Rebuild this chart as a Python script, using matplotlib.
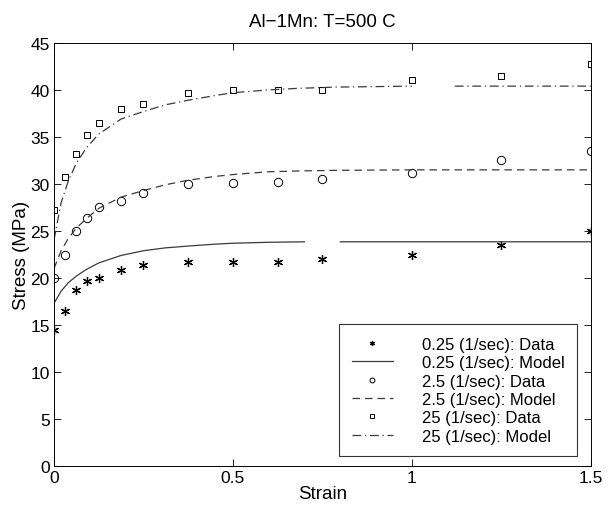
import numpy as np
import matplotlib
matplotlib.use('Agg')
import matplotlib.pyplot as plt

plt.rcParams['font.family'] = ['Liberation Sans', 'DejaVu Sans']

# ── data ───────────────────────────────────────────────────────
strain = [0, 0.03125, 0.0625, 0.09375, 0.125, 0.1875, 0.25,
          0.375, 0.5, 0.625, 0.75, 1.0, 1.25, 1.5]
data_025 = [14.5, 16.5, 18.7, 19.7, 20.0, 20.9, 21.4,
            21.7, 21.7, 21.7, 22.0, 22.5, 23.5, 25.0]
data_25 = [20.0, 22.5, 25.0, 26.4, 27.5, 28.2, 29.0,
           30.0, 30.1, 30.2, 30.5, 31.2, 32.5, 33.5]
data_250 = [27.2, 30.7, 33.2, 35.2, 36.5, 38.0, 38.5,
            39.7, 40.0, 40.0, 40.0, 41.0, 41.5, 42.7]

# model curves (nan = gap in the drawn line)
model_x = [0, 0.02, 0.04, 0.0625, 0.09, 0.125, 0.1875, 0.25, 0.31,
           0.375, 0.45, 0.5, 0.6, 0.7, 0.71, 0.79, 0.8, 1.0, 1.02,
           1.115, 1.12, 1.25, 1.5]
model_025 = [17.3, 18.6, 19.5, 20.2, 20.9, 21.6, 22.4, 22.9, 23.2,
             23.4, 23.6, 23.7, 23.8, 23.85, np.nan, np.nan, 23.85, 23.85, 23.85,
             23.85, 23.85, 23.85, 23.85]
model_25 = [21.0, 22.9, 24.2, 25.3, 26.3, 27.4, 28.6, 29.3, 29.9,
            30.4, 30.8, 31.0, 31.3, 31.4, 31.4, 31.45, 31.45, 31.5, 31.5,
            31.5, 31.5, 31.5, 31.5]
model_250 = [24.0, 28.0, 30.3, 32.2, 33.8, 35.3, 36.9, 37.7, 38.4,
             38.9, 39.4, 39.7, 40.0, 40.2, 40.2, 40.3, 40.3, 40.4, np.nan,
             np.nan, 40.4, 40.4, 40.4]

line_col = '#3a3a3a'
asterisk = (6, 2, 0)

fig = plt.figure(figsize=(6.06, 5.10), dpi=100)
ax = fig.add_axes([0.089, 0.084, 0.886, 0.830])

ax.plot(strain, data_025, marker=asterisk, color='black', ms=6.5, mew=0.9,
        linestyle='none', label='0.25 (1/sec): Data')
ax.plot(model_x, model_025, '-', color=line_col, lw=0.9,
        label='0.25 (1/sec): Model')
ax.plot(strain, data_25, 'o', mfc='none', mec='black', ms=6, mew=0.7,
        linestyle='none', label='2.5 (1/sec): Data')
ax.plot(model_x, model_25, '--', color=line_col, lw=0.9, dashes=(6, 4),
        label='2.5 (1/sec): Model')
ax.plot(strain, data_250, 's', mfc='none', mec='black', ms=4.8, mew=0.7,
        linestyle='none', label='25 (1/sec): Data')
ax.plot(model_x, model_250, '-.', color=line_col, lw=0.9,
        dashes=(7, 3, 1, 3), label='25 (1/sec): Model')

ax.set_xlim(0, 1.5)
ax.set_ylim(0, 45)
ax.set_xticks([0, 0.5, 1, 1.5])
ax.set_xticklabels(['0', '0.5', '1', '1.5'])
ax.set_yticks(range(0, 46, 5))
ax.tick_params(direction='in', top=True, right=True, labelsize=12.5,
               length=5, width=0.6, pad=3)
for s in ax.spines.values():
    s.set_linewidth(0.7)

ax.set_xlabel('Strain', fontsize=13.5, labelpad=0)
ax.set_ylabel('Stress (MPa)', fontsize=13.5, labelpad=0)
ax.set_title('Al\u22121Mn: T=500 C', fontsize=13.5, pad=12)

leg = ax.legend(loc='lower right', fontsize=12, frameon=True, fancybox=False,
                edgecolor='black', borderpad=0.75, labelspacing=0.2,
                handlelength=2.5, handletextpad=1.7, borderaxespad=0,
                bbox_to_anchor=(0.974, 0.024))
leg.get_frame().set_linewidth(0.8)
for h in leg.legend_handles:
    h.set_markersize(3.5)

fig.savefig('out.png', dpi=100)
